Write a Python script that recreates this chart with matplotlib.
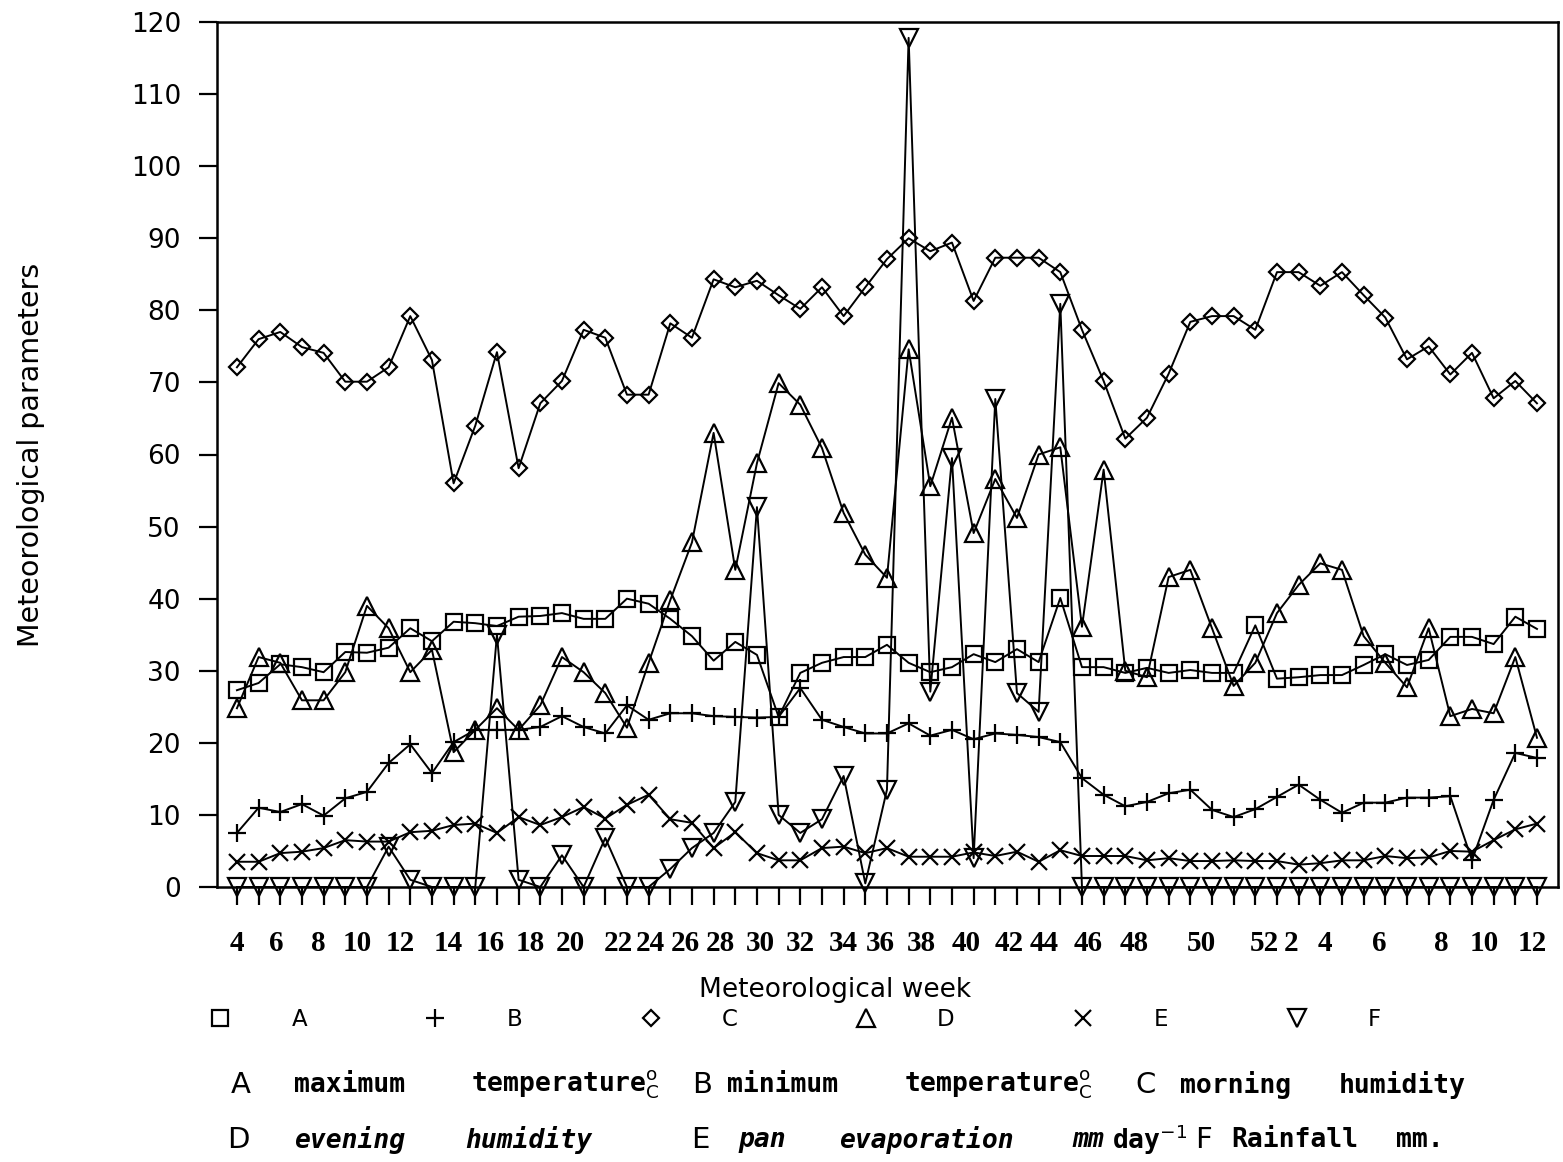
import numpy as np
import matplotlib.pyplot as plt
from matplotlib.lines import Line2D
from matplotlib.transforms import blended_transform_factory

# meteorological weeks 4..52 and then 1..12 of the next year
weeks = list(range(4, 53)) + list(range(1, 13))

max_temp = [27.3, 28.3, 30.9, 30.5, 29.8, 32.6, 32.5, 33.2, 35.9, 34.1,
            36.8, 36.6, 36.2, 37.5, 37.6, 38.0, 37.2, 37.2, 40.0, 39.3,
            37.2, 34.8, 31.4, 34.0, 32.2, 23.6, 29.7, 31.1, 31.9, 31.9,
            33.6, 31.1, 29.8, 30.5, 32.3, 31.2, 33.0, 31.2, 40.1, 30.5,
            30.5, 29.7, 30.4, 29.7, 30.1, 29.7, 29.7, 36.3, 28.9, 29.1,
            29.4, 29.4, 30.8, 32.3, 30.8, 31.5, 34.7, 34.7, 33.7, 37.5, 35.8]
min_temp = [7.5, 11.0, 10.4, 11.5, 9.9, 12.3, 13.2, 17.2, 19.8, 15.8,
            20.1, 21.8, 21.8, 21.8, 22.2, 23.7, 22.2, 21.3, 25.2, 23.2,
            24.1, 24.1, 23.7, 23.6, 23.5, 23.6, 27.6, 23.2, 22.2, 21.3,
            21.3, 22.7, 21.0, 21.8, 20.5, 21.3, 21.1, 20.8, 20.1, 15.1,
            12.8, 11.2, 11.8, 13.0, 13.5, 10.7, 9.7, 10.8, 12.5, 14.2,
            12.1, 10.3, 11.7, 11.7, 12.4, 12.4, 12.6, 3.7, 12.1, 18.6, 17.9]
morning_rh = [72.1, 76.0, 77.0, 74.9, 74.1, 70.1, 70.1, 72.1, 79.2, 73.1,
              56.0, 64.0, 74.2, 58.1, 67.1, 70.2, 77.3, 76.2, 68.3, 68.3,
              78.2, 76.2, 84.3, 83.2, 84.1, 82.1, 80.2, 83.2, 79.2, 83.2,
              87.1, 90.0, 88.2, 89.4, 81.3, 87.3, 87.3, 87.3, 85.3, 77.3,
              70.2, 62.2, 65.1, 71.2, 78.4, 79.2, 79.2, 77.3, 85.3, 85.3,
              83.4, 85.3, 82.1, 79.0, 73.2, 75.0, 71.1, 74.1, 67.8, 70.2, 67.1]
evening_rh = [24.8, 31.9, 31.1, 25.9, 25.9, 29.8, 39.0, 35.9, 29.8, 32.9,
              18.7, 21.8, 24.8, 21.8, 25.2, 31.9, 29.8, 26.9, 22.1, 31.1,
              39.8, 47.8, 63.0, 44.0, 58.8, 69.9, 66.9, 60.9, 51.9, 46.1,
              42.9, 74.6, 55.6, 65.1, 49.1, 56.6, 51.2, 60.0, 61.0, 36.1,
              57.9, 30.0, 29.1, 43.0, 44.0, 35.9, 27.9, 31.1, 38.0, 41.9,
              44.9, 44.0, 34.8, 31.1, 27.7, 35.9, 23.7, 24.7, 24.1, 31.9, 20.7]
pan_evap = [3.5, 3.5, 4.7, 4.9, 5.4, 6.5, 6.3, 6.3, 7.6, 7.8,
            8.6, 8.8, 7.5, 9.7, 8.6, 9.7, 11.1, 9.5, 11.4, 12.8,
            9.4, 8.9, 5.4, 7.6, 4.7, 3.7, 3.7, 5.4, 5.6, 4.7,
            5.4, 4.2, 4.2, 4.2, 4.8, 4.3, 4.9, 3.5, 5.1, 4.3,
            4.3, 4.3, 3.7, 4.0, 3.6, 3.6, 3.7, 3.6, 3.6, 3.1,
            3.3, 3.7, 3.7, 4.3, 4.0, 4.1, 5.0, 4.9, 6.5, 8.0, 8.8]
rainfall = [0, 0, 0, 0, 0, 0, 0, 5.6, 1.0, 0,
            0, 0, 35.0, 1.0, 0, 4.4, 0, 6.8, 0, 0,
            2.5, 5.4, 7.5, 11.8, 52.7, 10.0, 7.5, 9.4, 15.4, 0.5,
            13.5, 117.8, 27.1, 59.5, 4.0, 67.7, 26.9, 24.3, 80.9, 0,
            0, 0, 0, 0, 0, 0, 0, 0, 0, 0,
            0, 0, 0, 0, 0, 0, 0, 0, 0, 0, 0]

# hand lettered tick labels (written a little off their ticks in the original)
tick_text = ['4', '6', '8', '10', '12', '14', '16', '18', '20', '22', '24', '26',
             '28', '30', '32', '34', '36', '38', '40', '42', '44', '46', '48',
             '50', '52', '2', '4', '6', '8', '10', '12']
tick_at = [0.0, 1.8, 3.75, 5.55, 7.55, 9.75, 11.7, 13.55, 15.4, 17.6, 19.1,
           20.7, 22.3, 24.15, 26.0, 28.0, 29.7, 31.6, 33.65, 35.65, 37.25,
           39.3, 41.4, 44.5, 47.4, 48.65, 50.2, 52.7, 55.6, 57.55, 59.8]

series = [('A', max_temp, 's', 11),
          ('B', min_temp, '+', 12.5),
          ('C', morning_rh, 'D', 8.5),
          ('D', evening_rh, '^', 12.5),
          ('E', pan_evap, 'x', 11.5),
          ('F', rainfall, 'v', 12.5)]

plt.rcParams['font.family'] = 'DejaVu Sans'
W, H = 1563, 1162
fig = plt.figure(figsize=(W / 100, H / 100), dpi=100)
ax = fig.add_axes([217 / W, 1 - 887 / H, (1558 - 217) / W, (887 - 22) / H])

x = np.arange(len(weeks))
for name, vals, mk, ms in series:
    ax.plot(x, vals, color='black', lw=1.4, marker=mk, ms=ms, mew=1.6,
            mfc='none', mec='black', clip_on=False)

ax.set_xlim(-0.92, 60.97)
ax.set_ylim(0, 120)
ax.set_yticks(np.arange(0, 121, 10))
ax.set_xticks(x)
ax.set_xticklabels([])
ax.tick_params(axis='both', direction='out', length=13, width=1.6, color='black')
ax.tick_params(axis='y', labelsize=19, pad=13)
for s in ax.spines.values():
    s.set_linewidth(1.8)

trans = blended_transform_factory(ax.transData, ax.transAxes)
for t, pos in zip(tick_text, tick_at):
    ax.text(pos, -0.065, t, transform=trans, ha='center', va='center',
            fontsize=21, fontweight='bold', family='Liberation Serif')

ax.set_ylabel('Meteorological parameters', fontsize=20.5)
ax.yaxis.set_label_coords(-0.139, 0.5)
ax.yaxis.label.set_va('center')
ax.set_xlabel('Meteorological week', fontsize=19)
ax.xaxis.set_label_coords(0.461, -0.119)
ax.xaxis.label.set_va('center')

# key row: symbol followed by its letter
handles = [Line2D([], [], ls='none', marker=mk, ms=ms * 1.0, mew=1.6,
                  color='black', mfc='none') for _, _, mk, ms in series]
fig.legend(handles, [s[0] for s in series], ncol=6, loc='center left',
           bbox_to_anchor=(209 / W, 1 - 1020 / H), frameon=False, fontsize=16.5,
           handlelength=1.0, handletextpad=2.6, columnspacing=5.1,
           borderpad=0, borderaxespad=0)

# explanation lines under the key, each piece centred where it sits in the original
mono = 'DejaVu Sans Mono'
degc = r'$^{\mathrm{o}}_{\mathrm{C}}$'
line1 = [(241, 'A', 'big', 'normal'), (350, 'maximum', mono, 'normal'),
         (565, 'temperature' + degc, mono, 'normal'), (702, 'B', 'big', 'normal'),
         (783, 'minimum', mono, 'normal'), (998, 'temperature' + degc, mono, 'normal'),
         (1146, 'C', 'big', 'normal'), (1236, 'morning', mono, 'normal'),
         (1402, 'humidity', mono, 'normal')]
line2 = [(238, 'D', 'big', 'normal'), (350, 'evening', mono, 'italic'),
         (529, 'humidity', mono, 'italic'), (700, 'E', 'big', 'normal'),
         (762, 'pan', mono, 'italic'), (926, 'evaporation', mono, 'italic'),
         (1088, 'mm', mono, 'italic'), (1150, r'day$^{-1}$', mono, 'normal'),
         (1203, 'F', 'big', 'normal'), (1295, 'Rainfall', mono, 'normal'),
         (1420, 'mm.', mono, 'normal')]
for yline, pieces in [(1085, line1), (1140, line2)]:
    for xp, txt, fam, sty in pieces:
        if fam == 'big':
            fig.text(xp / W, 1 - yline / H, txt, fontsize=21, ha='center', va='center')
        else:
            fig.text(xp / W, 1 - yline / H, txt, fontsize=19, family=fam,
                     style=sty, fontweight='bold', ha='center', va='center')

fig.savefig('out.png', dpi=100)
